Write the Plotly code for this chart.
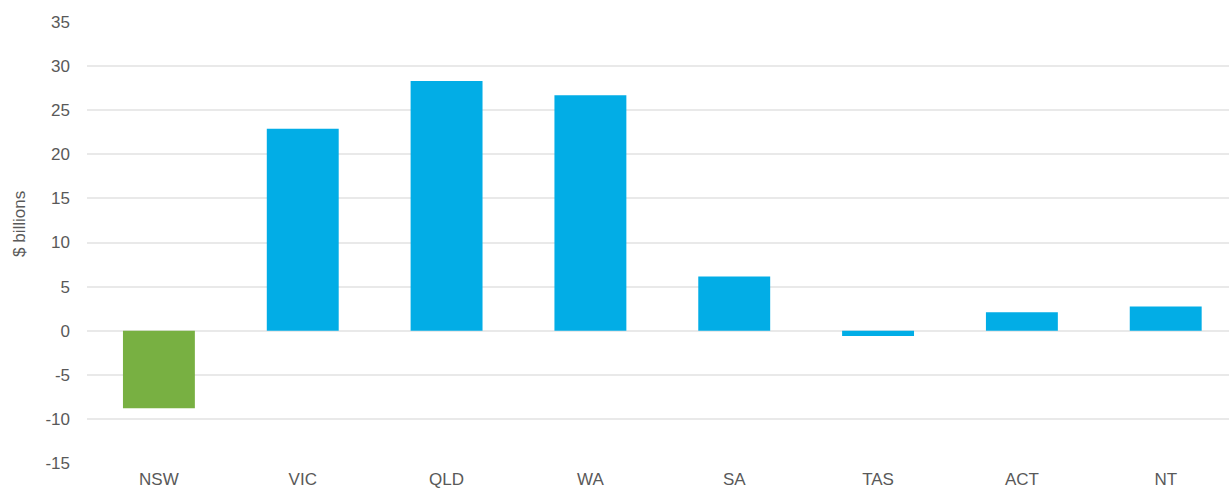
import plotly.graph_objects as go

# States and territories with net value in $ billions
states = ["NSW", "VIC", "QLD", "WA", "SA", "TAS", "ACT", "NT"]
values = [-8.8, 22.9, 28.3, 26.7, 6.15, -0.6, 2.1, 2.75]
bar_colors = ["#78B042", "#02ADE6", "#02ADE6", "#02ADE6", "#02ADE6",
              "#02ADE6", "#02ADE6", "#02ADE6"]
y_ticks = [-15, -10, -5, 0, 5, 10, 15, 20, 25, 30, 35]
y_tick_text = [str(v) for v in y_ticks]  # plain hyphen for negatives

font_color = "#595959"
grid_color = "#e9e9e9"
font_size = 17

fig = go.Figure(
    go.Bar(
        x=states,
        y=values,
        marker=dict(color=bar_colors, line=dict(width=0)),
        width=0.5,
    )
)

fig.update_layout(
    width=1229,
    height=492,
    margin=dict(l=87, r=0, t=22, b=29),
    paper_bgcolor="white",
    plot_bgcolor="white",
    showlegend=False,
    font=dict(family="Liberation Sans, Arial, sans-serif", size=font_size, color=font_color),
    xaxis=dict(
        range=[-0.5, 7.44],
        automargin=False,
        showgrid=False,
        showline=False,
        zeroline=False,
        ticks="",
        tickfont=dict(size=font_size, color=font_color),
        ticklabelstandoff=4,
    ),
    yaxis=dict(
        range=[-15, 35],
        automargin=False,
        tickvals=y_ticks,
        ticktext=y_tick_text,
        showgrid=True,
        gridcolor=grid_color,
        gridwidth=1.5,
        zeroline=False,
        showline=False,
        ticks="",
        tickfont=dict(size=font_size, color=font_color),
        ticklabelstandoff=16,
    ),
)

# Axis title placed in pixel terms relative to the plot area
plot_w = 1229 - 87
plot_h = 492 - 22 - 29
fig.add_annotation(
    text="$ billions",
    x=(19 - 87) / plot_w,
    y=(492 - 29 - 224) / plot_h,
    xref="paper", yref="paper",
    xanchor="center", yanchor="middle",
    showarrow=False,
    textangle=-90,
    font=dict(size=font_size, color=font_color),
)

fig.write_html("out.html")
